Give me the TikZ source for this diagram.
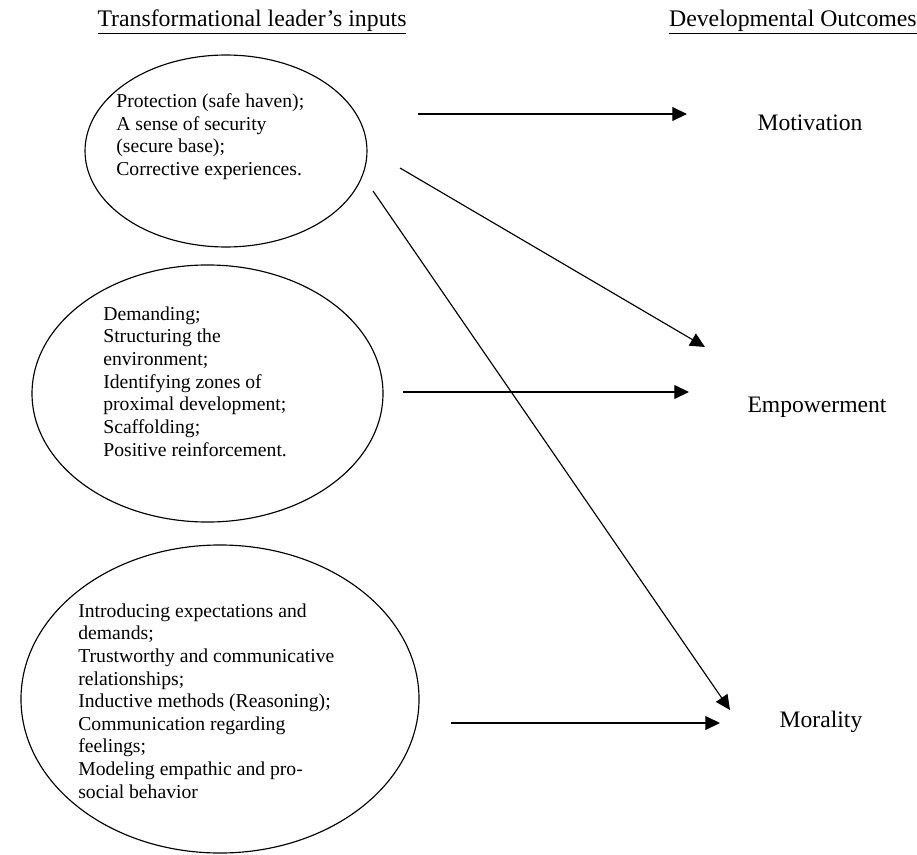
\documentclass[tikz,border=0pt]{standalone}
\usepackage{fontspec}
\setmainfont{Liberation Serif}
\usetikzlibrary{arrows.meta,shapes.geometric}
\begin{document}
\begin{tikzpicture}[x=0.61pt,y=-0.61pt,
  oval/.style={draw,ellipse,line width=0.7pt,inner sep=0pt},
  body/.style={align=left,anchor=west,inner sep=0pt,font=\fontsize{12}{13.8}\selectfont},
  head/.style={inner sep=0pt,font=\fontsize{14.5}{16}\selectfont},
  outc/.style={inner sep=0pt,font=\fontsize{14.4}{16}\selectfont},
  arr/.style={line width=0.7pt,-{Triangle[length=9pt,width=8.5pt]}}]
\useasboundingbox (0,0) rectangle (917,855);

% titles
\node[head] (t1) at (252,22) {\underline{Transformational leader’s inputs}};
\node[head,anchor=east] (t2) at (917,22) {\underline{Developmental Outcomes}};

% ellipses
\node[oval,minimum width=172pt,minimum height=117.1pt] (e1) at (226,151) {};
\node[oval,minimum width=214.1pt,minimum height=156.8pt] (e2) at (207.5,393.5) {};
\node[oval,minimum width=242.8pt,minimum height=187.9pt] (e3) at (220,699) {};

% ellipse texts
\node[body] (x1) at (116,136.5) {Protection (safe haven);\\A sense of security\\(secure base);\\Corrective experiences.};
\node[body] (x2) at (103,381.5) {Demanding;\\Structuring the\\environment;\\Identifying zones of\\proximal development;\\Scaffolding;\\Positive reinforcement.};
\node[body] (x3) at (78,701) {Introducing expectations and\\demands;\\Trustworthy and communicative\\relationships;\\Inductive methods (Reasoning);\\Communication regarding\\feelings;\\Modeling empathic and pro-\\social behavior};

% outcomes
\node[outc] (o1) at (810,123) {Motivation};
\node[outc] (o2) at (817,407) {Empowerment};
\node[outc] (o3) at (821,722) {Morality};

% connector end points
\coordinate (s1) at (418,114); \coordinate (f1) at (687,114);
\coordinate (s2) at (400,168); \coordinate (f2) at (705,347);
\coordinate (s3) at (373,191); \coordinate (f3) at (730,710);
\coordinate (s4) at (403,392); \coordinate (f4) at (689,392);
\coordinate (s5) at (451,723); \coordinate (f5) at (720,723);

\draw[arr] (s1) -- (f1);
\draw[arr] (s2) -- (f2);
\draw[arr] (s3) -- (f3);
\draw[arr] (s4) -- (f4);
\draw[arr] (s5) -- (f5);
\end{tikzpicture}
\end{document}
